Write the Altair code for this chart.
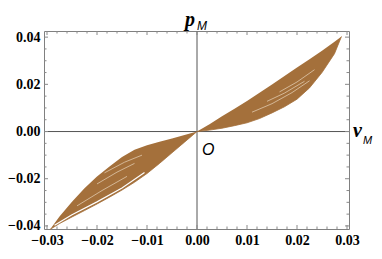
import altair as alt
import pandas as pd

# ---- data ----
# first-quadrant band of loops: v, lower edge, upper edge
q1_v  = [0, 0.0025, 0.005, 0.0075, 0.01, 0.0125, 0.015, 0.0175, 0.02, 0.0225, 0.025, 0.0275, 0.0289]
q1_lo = [0, 0.0006, 0.0014, 0.0025, 0.0037, 0.0055, 0.0079, 0.0105, 0.0137, 0.0185, 0.0250, 0.0330, 0.0403]
q1_hi = [0, 0.0031, 0.0065, 0.0097, 0.0129, 0.0164, 0.0199, 0.0235, 0.0271, 0.0306, 0.0342, 0.0380, 0.0403]
# third-quadrant band
q3_v  = [0, -0.0025, -0.005, -0.0075, -0.01, -0.0125, -0.015, -0.0175, -0.02, -0.0225, -0.025, -0.0275, -0.0294]
q3_hi = [0, -0.0015, -0.0029, -0.0043, -0.0058, -0.0077, -0.0108, -0.0148, -0.0191, -0.0240, -0.0298, -0.0360, -0.0415]
q3_lo = [0, -0.0045, -0.0090, -0.0135, -0.0178, -0.0215, -0.0248, -0.0278, -0.0307, -0.0335, -0.0362, -0.0390, -0.0415]

# light gaps between individual loops
gap_id = ["a"] * 4 + ["b"] * 3 + ["c"] * 3 + ["e"] * 3 + ["f"] * 3 + ["g"] * 3
gap_v = [0.0110, 0.0150, 0.0190, 0.0225,
         0.0140, 0.0175, 0.0215,
         0.0165, 0.0200, 0.0235,
         -0.0110, -0.0145, -0.0185,
         -0.0125, -0.0160, -0.0200,
         -0.0140, -0.0190, -0.0240]
gap_p = [0.0082, 0.0118, 0.0165, 0.0215,
         0.0128, 0.0163, 0.0213,
         0.0168, 0.0210, 0.0262,
         -0.0100, -0.0130, -0.0175,
         -0.0135, -0.0172, -0.0222,
         -0.0190, -0.0250, -0.0315]
# white gap that separates the outermost loop in the third quadrant
outer_v = [-0.0105, -0.0150, -0.0200, -0.0250, -0.0285]
outer_p = [-0.0174, -0.0239, -0.0298, -0.0353, -0.0397]

x_major = [-0.03, -0.02, -0.01, 0.0, 0.01, 0.02, 0.03]
x_minor = [-0.028, -0.026, -0.024, -0.022, -0.018, -0.016, -0.014, -0.012,
           -0.008, -0.006, -0.004, -0.002, 0.002, 0.004, 0.006, 0.008,
           0.012, 0.014, 0.016, 0.018, 0.022, 0.024, 0.026, 0.028]
y_major = [-0.04, -0.02, 0.0, 0.02, 0.04]
y_minor = [-0.035, -0.03, -0.025, -0.015, -0.01, -0.005,
           0.005, 0.01, 0.015, 0.025, 0.03, 0.035]

W, H = 305, 198
BROWN = "#A4703B"
SERIF = "Liberation Serif, Times New Roman, serif"
SANS = "Liberation Sans, Arial, sans-serif"
xs = alt.Scale(domain=[-0.0306, 0.0304], nice=False, zero=False)
ys = alt.Scale(domain=[-0.0413, 0.0426], nice=False, zero=False)

band = pd.DataFrame({
    "v": q1_v + q3_v,
    "lo": q1_lo + q3_lo,
    "hi": q1_hi + q3_hi,
    "quad": ["q1"] * len(q1_v) + ["q3"] * len(q3_v),
})
gaps = pd.DataFrame({"id": gap_id, "v": gap_v, "p": gap_p})
outer = pd.DataFrame({"v": outer_v, "p": outer_p})

lab = dict(labelFont=SERIF, labelFontWeight="bold", labelFontSize=14,
           labelColor="black", ticks=False, domain=False, grid=False, title=None,
           format=".2f")

base = alt.Chart(band).mark_area(color=BROWN, opacity=1, line={"color": BROWN, "strokeWidth": 0.8}).encode(
    x=alt.X("v:Q", scale=xs, axis=alt.Axis(values=x_major, labelPadding=4, **lab)),
    y=alt.Y("lo:Q", scale=ys, axis=alt.Axis(values=y_major, labelPadding=4, **lab)),
    y2="hi:Q",
    detail="quad:N",
)

gap_lines = alt.Chart(gaps).mark_line(color="#E6D2BA", strokeWidth=0.9, opacity=0.8).encode(
    x=alt.X("v:Q", scale=xs), y=alt.Y("p:Q", scale=ys), detail="id:N", order="v:Q")
outer_line = alt.Chart(outer).mark_line(color="white", strokeWidth=1.2).encode(
    x=alt.X("v:Q", scale=xs), y=alt.Y("p:Q", scale=ys))

zero = pd.DataFrame({"z": [0.0]})
vaxis = alt.Chart(zero).mark_rule(color="#555555", strokeWidth=1).encode(
    x=alt.X("z:Q", scale=xs), y=alt.value(0), y2=alt.value(H))
haxis = alt.Chart(zero).mark_rule(color="#555555", strokeWidth=1).encode(
    y=alt.Y("z:Q", scale=ys), x=alt.value(0), x2=alt.value(W))

TICK = "#8a8a8a"
def xticks(vals, ln):
    d = pd.DataFrame({"t": vals})
    b = alt.Chart(d).mark_rule(color=TICK, strokeWidth=1).encode(
        x=alt.X("t:Q", scale=xs), y=alt.value(H), y2=alt.value(H - ln))
    t = alt.Chart(d).mark_rule(color=TICK, strokeWidth=1).encode(
        x=alt.X("t:Q", scale=xs), y=alt.value(0), y2=alt.value(ln))
    return b + t
def yticks(vals, ln):
    d = pd.DataFrame({"t": vals})
    l = alt.Chart(d).mark_rule(color=TICK, strokeWidth=1).encode(
        y=alt.Y("t:Q", scale=ys), x=alt.value(0), x2=alt.value(ln))
    r = alt.Chart(d).mark_rule(color=TICK, strokeWidth=1).encode(
        y=alt.Y("t:Q", scale=ys), x=alt.value(W), x2=alt.value(W - ln))
    return l + r

one = pd.DataFrame({"a": [0]})
def label(txt, x, y, size, font, style, weight="normal"):
    return alt.Chart(one).mark_text(text=txt, align="left", baseline="alphabetic",
                                    font=font, fontSize=size, fontStyle=style,
                                    fontWeight=weight, color="black").encode(
        x=alt.value(x), y=alt.value(y))

texts = (label("p", 141, -5, 20, SERIF, "italic", "bold")
         + label("M", 153, -1, 12, SANS, "italic")
         + label("v", 309, 106, 20, SERIF, "italic", "bold")
         + label("M", 319, 113, 11, SANS, "italic")
         + label("O", 158, 124, 16, SANS, "italic"))

chart = alt.layer(
    vaxis, haxis, base, gap_lines, outer_line,
    xticks(x_major, 4), xticks(x_minor, 2.5), yticks(y_major, 4), yticks(y_minor, 2.5),
    texts,
).properties(
    width=W, height=H, autosize="none",
    padding={"left": 36, "top": 23, "right": 25, "bottom": 22},
).configure_view(stroke="#808080", strokeWidth=1)

chart.save("out.html", embed_options={"renderer": "svg", "actions": False})
